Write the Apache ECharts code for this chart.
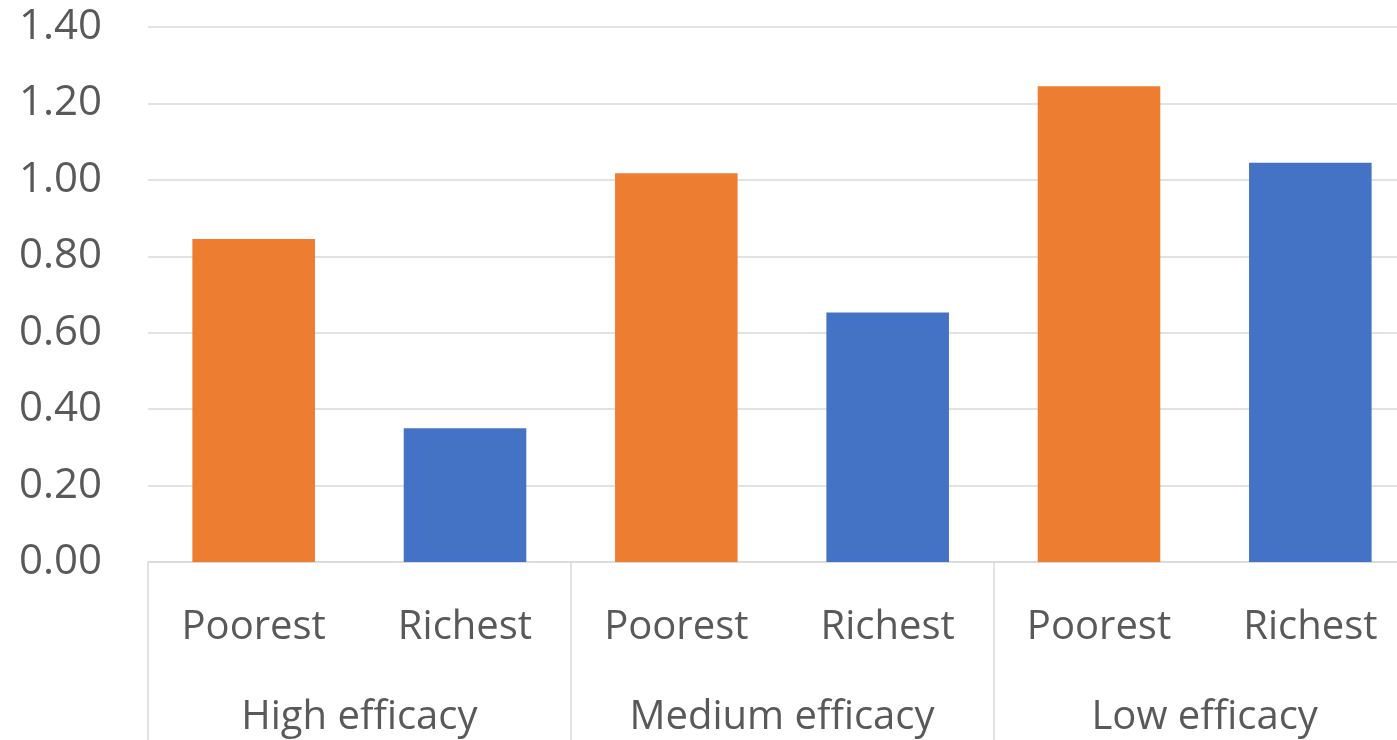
<!DOCTYPE html>
<html>
<head>
<meta charset="utf-8">
<script src="https://cdn.jsdelivr.net/npm/echarts@6/dist/echarts.min.js"></script>
<style>
html,body{margin:0;padding:0;background:#fff;overflow:hidden;}
#chart{width:1416px;height:740px;}
</style>
</head>
<body>
<div id="chart"></div>
<script>
const categories = ['Poorest','Richest','Poorest','Richest','Poorest','Richest'];
const groups = ['High efficacy','Medium efficacy','Low efficacy'];
const values = [0.845, 0.350, 1.017, 0.653, 1.245, 1.045];
const yTicks = [0, 0.2, 0.4, 0.6, 0.8, 1.0, 1.2, 1.4];

const colorMap = { 'Poorest': '#ED7D31', 'Richest': '#4472C4' };
const font = 'Open Sans';
const txt = '#595959';

const chart = echarts.init(document.getElementById('chart'));
chart.setOption({
  animation: false,
  backgroundColor: '#fff',
  grid: { left: 148, right: 0, top: 27, bottom: 178, containLabel: false },
  xAxis: [
    {
      type: 'category',
      data: categories,
      position: 'bottom',
      axisLine: { show: true, lineStyle: { color: '#d9d9d9', width: 1.5 } },
      axisTick: { show: false },
      axisLabel: { color: txt, fontFamily: font, fontSize: 40, margin: 46, interval: 0 }
    },
    {
      type: 'category',
      data: groups,
      position: 'bottom',
      offset: 0,
      axisLine: { show: false },
      axisTick: { show: true, inside: false, length: 180, lineStyle: { color: '#d9d9d9', width: 1.5 } },
      axisLabel: { color: txt, fontFamily: font, fontSize: 40, margin: 136, interval: 0 }
    }
  ],
  yAxis: {
    type: 'value',
    min: yTicks[0],
    max: yTicks[yTicks.length - 1],
    interval: 0.2,
    axisLine: { show: false },
    axisTick: { show: false },
    splitLine: { lineStyle: { color: '#d9d9d9', width: 1.5 } },
    axisLabel: { color: txt, fontFamily: font, fontSize: 42, margin: 46, formatter: v => v.toFixed(2) }
  },
  series: [{
    type: 'bar',
    xAxisIndex: 0,
    data: values,
    barWidth: '58%',
    itemStyle: { color: p => colorMap[p.name] }
  }]
});
</script>
</body>
</html>
